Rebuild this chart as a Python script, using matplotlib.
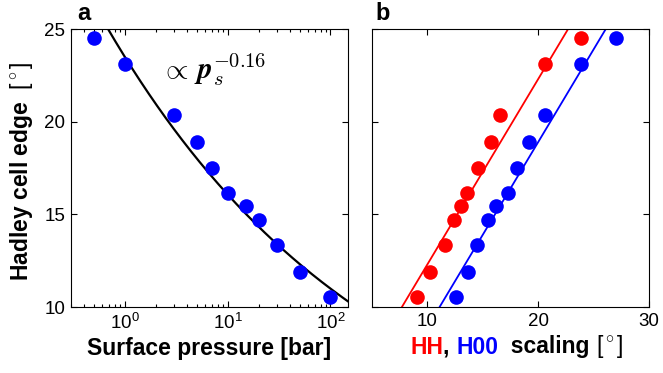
import numpy as np
import matplotlib
matplotlib.use("Agg")
import matplotlib.pyplot as plt
from matplotlib.offsetbox import TextArea, HPacker, AnchoredOffsetbox

plt.rcParams['font.family'] = ['Liberation Sans', 'DejaVu Sans']
plt.rcParams['mathtext.fontset'] = 'custom'
plt.rcParams['mathtext.rm'] = 'Liberation Sans'
plt.rcParams['mathtext.it'] = 'Liberation Sans:italic'
plt.rcParams['mathtext.bf'] = 'Liberation Sans:bold'

# ---- data ----
pressure = [0.5, 1, 3, 5, 7, 10, 15, 20, 30, 50, 100]
hadley_edge = [24.5, 23.1, 20.34, 18.92, 17.52, 16.13, 15.43, 14.71, 13.33, 11.9, 10.52]
hh_scaling = [23.85, 20.57, 16.52, 15.71, 14.6, 13.58, 13.0, 12.43, 11.62, 10.24, 9.1]
h00_scaling = [27.0, 23.85, 20.57, 19.13, 18.11, 17.27, 16.16, 15.44, 14.5, 13.67, 12.62]
fit_coef = 23.5
fit_exp = -0.165
hh_offset = 2.3
h00_offset = -1.1

RED = (1, 0, 0)
BLUE = (0, 0, 1)

fig = plt.figure(figsize=(6.63, 3.73), dpi=100)
W, H = 663, 373
def ax_rect(l, t, r, b):
    return [l / W, 1 - b / H, (r - l) / W, (b - t) / H]

axa = fig.add_axes(ax_rect(71, 29, 348, 307))
axb = fig.add_axes(ax_rect(372, 29, 649, 307))

for ax in (axa, axb):
    ax.tick_params(which='both', direction='in', top=True, right=True,
                   labelsize=13.5, pad=4, width=0.8)
    ax.tick_params(which='major', length=4)
    ax.tick_params(which='minor', length=2.5)
    for s in ax.spines.values():
        s.set_linewidth(0.8)
    ax.set_ylim(10, 25)
    ax.set_yticks([10, 15, 20, 25])

# panel a
axa.set_xscale('log')
axa.set_xlim(0.3, 148)
pp = np.logspace(np.log10(0.3), np.log10(148), 300)
axa.plot(pp, fit_coef * pp ** fit_exp, color='black', lw=1.6, zorder=2)
axa.plot(pressure, hadley_edge, 'o', color=BLUE, ms=10.5, mec='none', zorder=3)
axa.text(2.2, 22.3, r'$\propto\, \boldsymbol{p}_s^{\boldsymbol{-0.16}}$', fontsize=21,
         math_fontfamily='cm', ha='left', va='baseline')

# panel b
axb.set_xlim(5, 30)
axb.set_xticks([10, 20, 30])
axb.set_yticklabels([])
xx = np.linspace(5, 30, 100)
axb.plot(xx, xx + hh_offset, color=RED, lw=1.3, zorder=2)
axb.plot(xx, xx + h00_offset, color=BLUE, lw=1.3, zorder=2)
axb.plot(hh_scaling, hadley_edge, 'o', color=RED, ms=10.5, mec='none', zorder=3)
axb.plot(h00_scaling, hadley_edge, 'o', color=BLUE, ms=10.5, mec='none', zorder=3)

# labels
fig.text(77 / W, 1 - 20 / H, 'a', fontsize=17, fontweight='bold', va='baseline')
fig.text(375 / W, 1 - 20 / H, 'b', fontsize=17, fontweight='bold', va='baseline')

fig.text(22 / W, 1 - 171.5 / H, r'Hadley cell edge  $[^\circ]$', fontsize=16.5,
         fontweight='bold', rotation=90, ha='center', va='center')
fig.text(209 / W, 1 - 355 / H, 'Surface pressure [bar]', fontsize=16.5,
         fontweight='bold', ha='center', va='baseline')

bold = dict(fontsize=16.5, fontweight='bold')
parts = [
    TextArea('HH', textprops=dict(color=RED, **bold)),
    TextArea(', ', textprops=dict(color='black', **bold)),
    TextArea('H00', textprops=dict(color=BLUE, **bold)),
    TextArea('  scaling ', textprops=dict(color='black', **bold)),
    TextArea(r'$[^\circ]$', textprops=dict(color='black', fontsize=16.5)),
]
box = HPacker(children=parts, align='baseline', pad=0, sep=0)
anch = AnchoredOffsetbox(loc='center', child=box, pad=0, borderpad=0, frameon=False,
                         bbox_to_anchor=(517 / W, 1 - 347 / H),
                         bbox_transform=fig.transFigure)
fig.add_artist(anch)

fig.savefig('out.png', dpi=100)
